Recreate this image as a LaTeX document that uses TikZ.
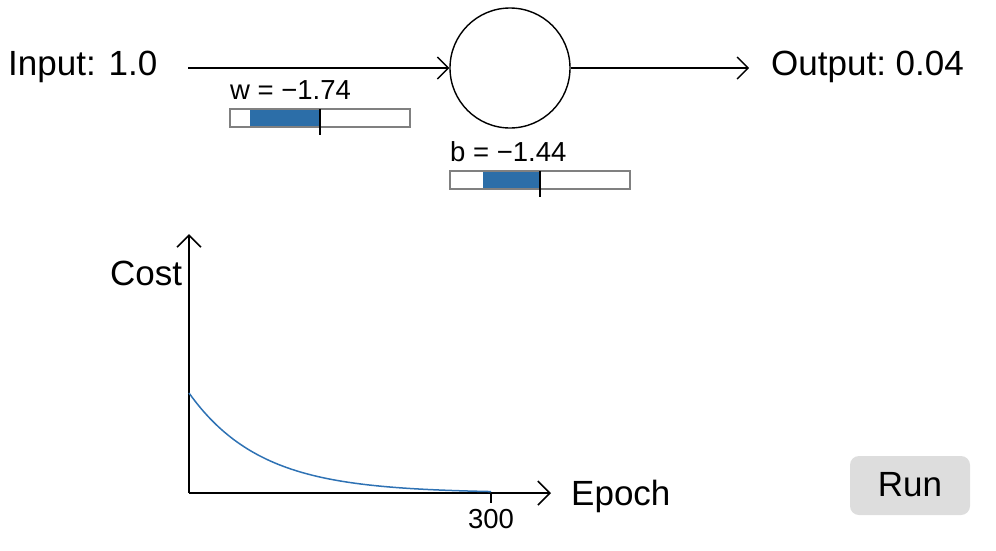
\documentclass[tikz,border=0pt]{standalone}
\usepackage{fontspec}
\setmainfont{Liberation Sans}
\usetikzlibrary{arrows.meta}
\definecolor{sliderblue}{HTML}{2C6EA8}
\definecolor{curveblue}{HTML}{2E72B4}
\definecolor{btngray}{HTML}{DDDDDD}
\definecolor{framegray}{HTML}{808080}
\tikzset{
  big/.style={inner sep=0pt, font=\fontsize{35}{42}\selectfont},
  small/.style={inner sep=0pt, font=\fontsize{27.5}{33}\selectfont},
  conn/.style={line width=1.4pt, -{Straight Barb[length=11pt,width=22pt,line width=1.4pt]}},
  axis/.style={line width=1.6pt, -{Straight Barb[length=12pt,width=24pt,line width=1.6pt]}},
  frame/.style={draw=framegray, line width=1.5pt},
  bar/.style={fill=sliderblue, draw=none},
  tickmark/.style={line width=1.4pt},
}
\begin{document}
\begin{tikzpicture}[x=1pt,y=-1pt]
\useasboundingbox (0,0) rectangle (996,550);
% neuron
\node[big, anchor=base west] (in) at (8,75) {Input: 1.0};
\node[big, anchor=base west] (out) at (771,75) {Output:~0.04};
\node[draw, circle, line width=1.4pt, minimum size=120pt, inner sep=0pt] (neuron) at (510,68) {};
\coordinate (inend) at (188,68);
\coordinate (outend) at (749,68);
\draw[conn] (inend) -- (neuron.west);
\draw[conn] (neuron.east) -- (outend);
% w slider
\node[small, anchor=base west] (wlab) at (230,99) {w = −1.74};
\fill[bar] (250,109) rectangle (320,127);
\draw[frame] (230,109) rectangle (410,127);
\draw[tickmark] (320,109) -- (320,135);
% b slider
\node[small, anchor=base west] (blab) at (450,161) {b = −1.44};
\fill[bar] (483,171) rectangle (540,189);
\draw[frame] (450,171) rectangle (630,189);
\draw[tickmark] (540,171) -- (540,197);
% axes
\coordinate (origin) at (189,493);
\coordinate (ytop) at (189,234);
\coordinate (xend) at (551,493);
\draw[axis] (origin) -- (ytop);
\draw[axis] (origin) -- (xend);
\node[big, anchor=base west] (cost) at (110,285) {Cost};
\node[big, anchor=base west] (epoch) at (571,505) {Epoch};
\draw[tickmark] (491,493) -- (491,503);
\node[small, anchor=base] (t300) at (491,528) {300};
\draw[curveblue, line width=1.5pt] plot[domain=0:302, samples=120, smooth] ({189+\x}, {493-100*exp(-0.014*\x)});
% run button
\fill[btngray, rounded corners=9pt] (850,456) rectangle (970,515);
\node[big, anchor=base] (run) at (910,496) {Run};
\end{tikzpicture}
\end{document}
